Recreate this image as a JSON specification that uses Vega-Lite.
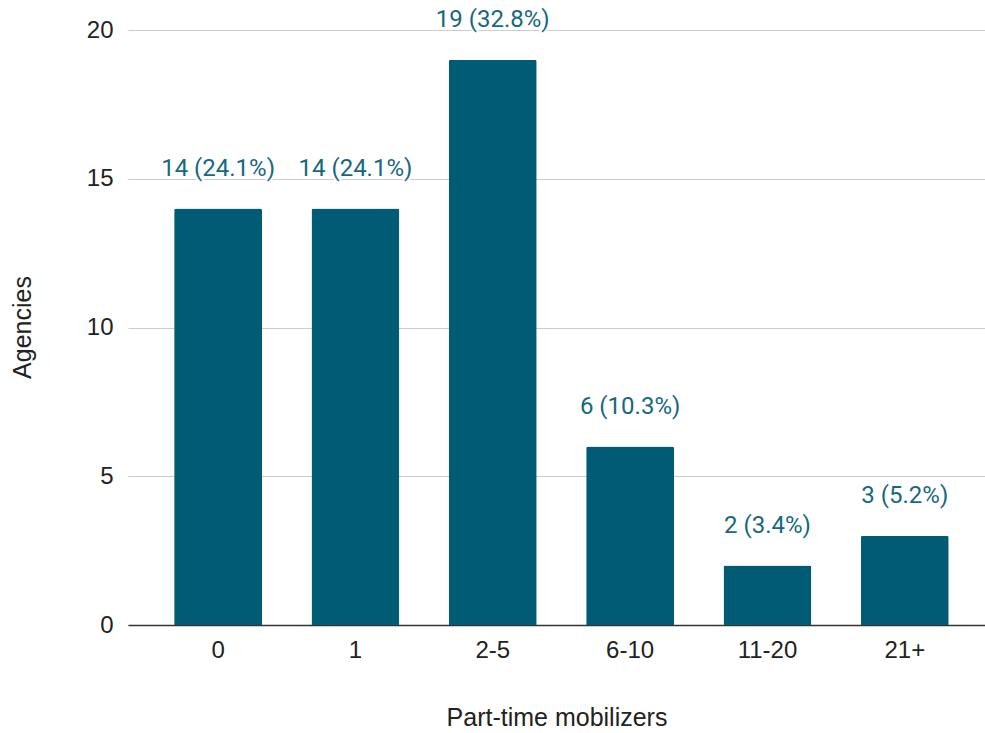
{
  "$schema": "https://vega.github.io/schema/vega-lite/v6.json",
  "autosize": "none",
  "width": 857,
  "height": 595,
  "padding": {"left": 128, "top": 30, "right": 0, "bottom": 108},
  "background": "white",
  "config": {"view": {"stroke": null}},
  "data": {
    "values": [
      {"group": "0", "agencies": 14, "label": "14 (24.1%)"},
      {"group": "1", "agencies": 14, "label": "14 (24.1%)"},
      {"group": "2-5", "agencies": 19, "label": "19 (32.8%)"},
      {"group": "6-10", "agencies": 6, "label": "6 (10.3%)"},
      {"group": "11-20", "agencies": 2, "label": "2 (3.4%)"},
      {"group": "21+", "agencies": 3, "label": "3 (5.2%)"}
    ]
  },
  "encoding": {
    "x": {
      "field": "group",
      "type": "nominal",
      "sort": null,
      "scale": {"paddingInner": 0.36, "paddingOuter": 0.3, "align": 0.56},
      "axis": {
        "title": "Part-time mobilizers",
        "labelAngle": 0,
        "labelFont": "Liberation Sans",
        "labelFontSize": 24,
        "labelColor": "#222222",
        "labelPadding": 13,
        "ticks": false,
        "domainColor": "#333333",
        "domainWidth": 1.5,
        "titleFont": "Liberation Sans",
        "titleFontSize": 25,
        "titleFontWeight": "normal",
        "titleColor": "#222222",
        "titleY": 92,
        "titleBaseline": "middle"
      }
    },
    "y": {
      "field": "agencies",
      "type": "quantitative",
      "scale": {"domain": [0, 20]},
      "axis": {
        "title": "Agencies",
        "values": [0, 5, 10, 15, 20],
        "labelFont": "Liberation Sans",
        "labelFontSize": 24,
        "labelColor": "#222222",
        "labelPadding": 15,
        "ticks": false,
        "domain": false,
        "gridColor": "#cccccc",
        "gridWidth": 1.2,
        "titleFont": "Liberation Sans",
        "titleFontSize": 25,
        "titleFontWeight": "normal",
        "titleColor": "#222222",
        "titleX": -106,
        "titleY": 297,
        "titleAngle": -90,
        "titleAlign": "center",
        "titleBaseline": "middle"
      }
    }
  },
  "layer": [
    {
      "mark": {"type": "bar", "color": "#005b75", "cornerRadiusTopLeft": 2, "cornerRadiusTopRight": 2}
    },
    {
      "mark": {"type": "text", "font": "Roboto", "fontSize": 24, "baseline": "alphabetic", "dy": -33, "stroke": "white", "strokeWidth": 4, "strokeJoin": "round", "fill": "white"},
      "encoding": {"text": {"field": "label"}}
    },
    {
      "mark": {"type": "text", "font": "Roboto", "fontSize": 24, "baseline": "alphabetic", "dy": -33, "fill": "#17687f"},
      "encoding": {"text": {"field": "label"}}
    }
  ]
}
